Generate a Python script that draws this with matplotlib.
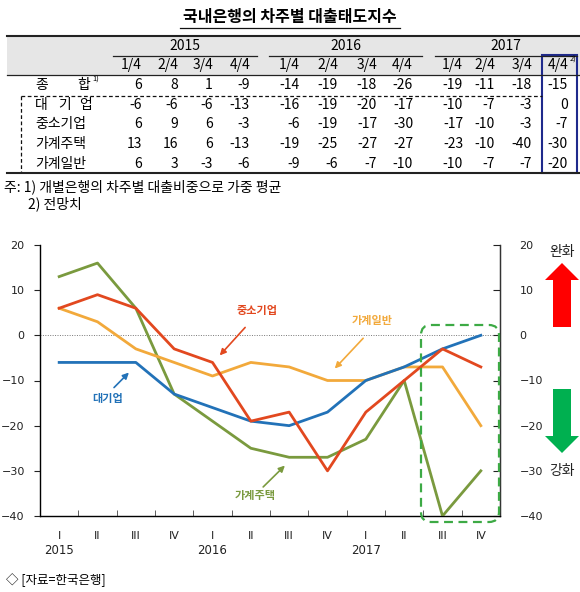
import matplotlib
matplotlib.use('Agg')
import matplotlib.pyplot as plt
from matplotlib.lines import Line2D
from matplotlib.patches import Rectangle, FancyBboxPatch, FancyArrow
from matplotlib.transforms import Affine2D, blended_transform_factory

plt.rcParams['font.family'] = ['Noto Sans CJK KR', 'DejaVu Sans']

# ---- data ----
years = ['2015', '2016', '2017']
quarters = ['1/4', '2/4', '3/4', '4/4'] * 3
roman = ['I', 'II', 'III', 'IV'] * 3
row_names = ['종합', '대기업', '중소기업', '가계주택', '가계일반']
total = [6, 8, 1, -9, -14, -19, -18, -26, -19, -11, -18, -15]
large = [-6, -6, -6, -13, -16, -19, -20, -17, -10, -7, -3, 0]
sme = [6, 9, 6, -3, -6, -19, -17, -30, -17, -10, -3, -7]
house = [13, 16, 6, -13, -19, -25, -27, -27, -23, -10, -40, -30]
general = [6, 3, -3, -6, -9, -6, -7, -10, -10, -7, -7, -20]

W, H = 580, 592
fig = plt.figure(figsize=(W / 100, H / 100), dpi=100)
# pixel coords, y pointing down
px = Affine2D().scale(1 / W, -1 / H).translate(0, 1) + fig.transFigure


def hline(x0, x1, y, lw=1.0, color='#222222', ls='-'):
    fig.add_artist(Line2D([x0, x1], [y, y], transform=px, lw=lw, color=color, ls=ls))


def vline(x, y0, y1, lw=1.0, color='#222222', ls='-'):
    fig.add_artist(Line2D([x, x], [y0, y1], transform=px, lw=lw, color=color, ls=ls))


def txt(x, y, s, **kw):
    kw.setdefault('fontsize', 10)
    kw.setdefault('va', 'center')
    fig.text(x, y, s, transform=px, **kw)


# ---- table ----
txt(290, 17, '국내은행의 차주별 대출태도지수', ha='center', fontsize=11.5, fontweight='bold')
hline(180, 400, 28, lw=0.9, color='#111111')

fig.add_artist(Rectangle((7, 36), 573, 39, transform=px, facecolor='#E6E6E6', edgecolor='none'))
hline(7, 580, 36, lw=1.5)
hline(7, 580, 75, lw=0.9)

col_right = [142, 178, 213, 250, 300, 338, 377, 413, 463, 495, 532, 568]
year_span = [(113, 257), (269, 422), (435, 577)]
for yr, (a, b) in zip(years, year_span):
    txt((a + b) / 2, 46, yr, ha='center')
    hline(a, b, 56, lw=0.9)
for i, q in enumerate(quarters):
    txt(col_right[i], 65, q, ha='right')
txt(570, 60, '2)', ha='left', fontsize=5.5)

rows = [total, large, sme, house, general]
row_y = [85 + 19.7 * i for i in range(5)]
for vals, y in zip(rows, row_y):
    for i, v in enumerate(vals):
        txt(col_right[i], y, str(v), ha='right')

# row labels
txt(35, row_y[0], '종', ha='left')
txt(90, row_y[0], '합', ha='right')
txt(92, row_y[0] - 5, '1)', ha='left', fontsize=5.5)
for ch, cx in zip('대기업', [41, 65, 86]):
    txt(cx, row_y[1], ch, ha='center')
for name, y in zip(row_names[2:], row_y[2:]):
    txt(35, y, name, ha='left')

hline(21, 542, 96, lw=0.9, color='#111111', ls=(0, (3, 2)))
vline(21, 96, 173, lw=0.9, color='#111111', ls=(0, (3, 2)))
hline(7, 580, 173, lw=1.5)
fig.add_artist(Rectangle((542, 55), 35, 118, transform=px, facecolor='none',
                         edgecolor='#1F2A8C', lw=1.5))

txt(4, 187, '주: 1) 개별은행의 차주별 대출비중으로 가중 평균', ha='left')
txt(28, 204, '2) 전망치', ha='left')

# ---- chart ----
ax = fig.add_axes([40 / W, 1 - 516 / H, 460 / W, 271 / H])
x = list(range(len(large)))
ax.plot(x, house, color='#7A9A3E', lw=2, zorder=3)
ax.plot(x, general, color='#F2A93B', lw=2, zorder=4)
ax.plot(x, large, color='#2272B8', lw=2, zorder=5)
ax.plot(x, sme, color='#E2481F', lw=2, zorder=6)
ax.axhline(0, color='#777777', lw=0.7, ls=(0, (1, 1.5)), zorder=2)

ax.set_xlim(-0.5, len(x) - 0.5)
ax.set_ylim(-40, 20)
ax.set_yticks(range(-40, 21, 10))
ax.tick_params(axis='y', direction='out', length=4, pad=7, labelsize=8,
               labelfontfamily='DejaVu Sans', colors='#222222')
ax.set_xticks(x)
ax.set_xticklabels(roman, fontsize=8, fontfamily='DejaVu Sans')
ax.set_xticks([i + 0.5 for i in x[:-1]], minor=True)
ax.tick_params(axis='x', which='major', length=0, pad=11, colors='#222222')
ax.tick_params(axis='x', which='minor', direction='in', length=4, color='#444444')
ax.spines['top'].set_visible(False)
for s in ['left', 'right', 'bottom']:
    ax.spines[s].set_color('#333333')
    ax.spines[s].set_linewidth(1)

ax2 = ax.twinx()
ax2.set_ylim(ax.get_ylim())
ax2.set_yticks(range(-40, 21, 10))
ax2.tick_params(axis='y', direction='in', length=5, pad=14, labelsize=8,
                labelfontfamily='DejaVu Sans', colors='#222222')
ax2.spines['top'].set_visible(False)
ax2.spines['right'].set_color('#333333')

tr = blended_transform_factory(ax.transData, px)
for i, yr in zip([0, 4, 8], years):
    fig.text(i, 550, yr, transform=tr, ha='center', va='center', fontsize=8.5,
             fontfamily='DejaVu Sans', color='#222222')

# series labels with arrows
labels = [
    ('중소기업', '#E2481F', (5.16, 5.6), (4.9, 2.2), (4.14, -4.9)),
    ('대기업', '#2272B8', (1.27, -14.0), (1.38, -12.0), (1.87, -7.8)),
    ('가계일반', '#F2A93B', (8.16, 3.3), (7.98, -0.2), (7.14, -7.8)),
    ('가계주택', '#7A9A3E', (5.11, -35.5), (5.27, -34.0), (5.94, -28.4)),
]
for name, c, tpos, a0, a1 in labels:
    ax.text(tpos[0], tpos[1], name, color=c, fontsize=8, fontweight='bold',
            ha='center', va='center')
    ax.annotate('', xy=a1, xytext=a0,
                arrowprops=dict(arrowstyle='-|>', color=c, lw=1.2, mutation_scale=9))

# highlight box for the outlook quarter
fig.add_artist(FancyBboxPatch((421, 325), 78, 197, transform=px,
                              boxstyle='round,pad=0,rounding_size=10',
                              facecolor='none', edgecolor='#3DAA45', lw=1.6,
                              ls=(0, (4, 2.5)), clip_on=False))

# easing / tightening arrows
fig.add_artist(FancyArrow(562, 327, 0, -64, width=18, head_width=34, head_length=17,
                          length_includes_head=True, transform=px,
                          color='#FF0000', lw=0))
fig.add_artist(FancyArrow(562, 389, 0, 64, width=18, head_width=34, head_length=17,
                          length_includes_head=True, transform=px,
                          color='#00B050', lw=0))
txt(562, 252, '완화', ha='center', color='#222222')
txt(562, 471, '강화', ha='center', color='#222222')

txt(6, 580, '◇ [자료=한국은행]', ha='left', fontsize=9)

fig.savefig('out.png', dpi=100)
